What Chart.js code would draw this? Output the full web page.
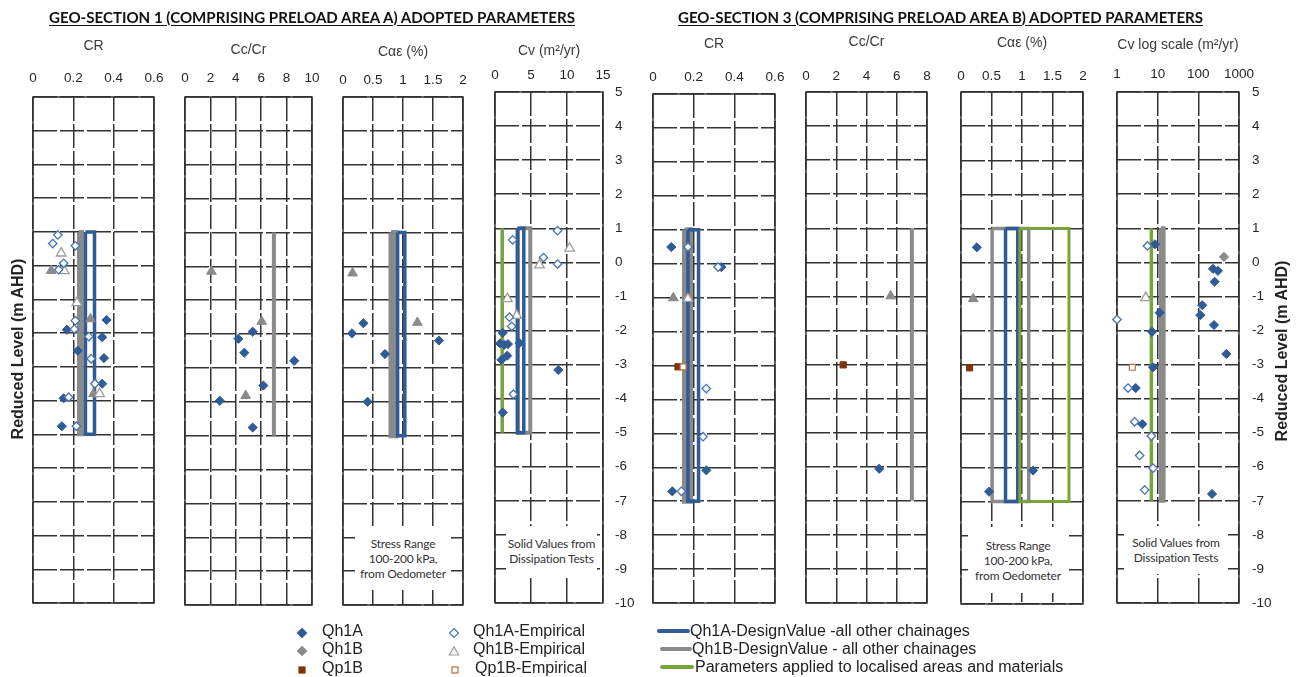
<!DOCTYPE html>
<html>
<head>
<meta charset="utf-8">
<title>Adopted Parameters – Geo-Sections 1 and 3</title>
<script src="https://cdn.jsdelivr.net/npm/chart.js@4.4.0/dist/chart.umd.min.js"></script>
<style>
  html, body { margin: 0; padding: 0; background: #fff; }
  #page { position: relative; width: 1296px; height: 677px; overflow: hidden;
          font-family: "Liberation Sans", Arial, sans-serif; color: #222; }
  #page canvas { position: absolute; left: 0; top: 0; }
  .hdr { position: absolute; top: 7px; height: 20px; line-height: 20px; white-space: nowrap;
         font-family: Lato, "Open Sans", sans-serif; font-weight: bold; font-size: 16px;
         text-decoration: underline; text-underline-offset: 2px; color: #111;
         transform-origin: left center; z-index: 5; }
  .vlabel { position: absolute; width: 260px; height: 20px; line-height: 20px; text-align: center;
            font-weight: bold; font-size: 16px; color: #222; transform: rotate(-90deg); z-index: 5; }
  .note { position: absolute; background: #fff; z-index: 5; display: flex; flex-direction: column;
          justify-content: center; align-items: center; font-family: Lato, "Open Sans", sans-serif;
          font-size: 12px; line-height: 15px; color: #333; letter-spacing: -0.2px; white-space: nowrap; }
  .leg { position: absolute; font-size: 16px; line-height: 18px; height: 18px; white-space: nowrap; color: #222; z-index: 5; }
  .legmark { position: absolute; z-index: 5; }
</style>
</head>
<body>
<div id="page"></div>
<script>
// ---------------- tick labels ----------------
const crTicks      = [0, 0.2, 0.4, 0.6];
const gs1CcCrTicks = [0, 2, 4, 6, 8, 10];
const gs3CcCrTicks = [0, 2, 4, 6, 8];
const caeTicks     = [0, 0.5, 1, 1.5, 2];
const cvTicks      = [0, 5, 10, 15];
const cvLogTicks   = [1, 10, 100, 1000];
const levelTicks   = [5, 4, 3, 2, 1, 0, -1, -2, -3, -4, -5, -6, -7, -8, -9, -10];

// design zones extend over these levels (m AHD): [top, bottom]
const gs1DesignLevels = [1, -5];
const gs3DesignLevels = [1, -7];

// ---------------- GEO-SECTION 1 : CR ----------------
const gs1CrQh1A    = [[0.365,-1.61],[0.168,-1.9],[0.343,-2.12],[0.222,-2.52],[0.352,-2.74],[0.343,-3.5],[0.152,-3.93],[0.143,-4.76]];
const gs1CrQh1B    = [[0.09,-0.15],[0.285,-1.58],[0.3,-3.8]];
const gs1CrQh1AEmp = [[0.098,0.655],[0.123,0.91],[0.21,0.59],[0.152,0.07],[0.127,-0.12],[0.21,-1.63],[0.205,-1.88],[0.277,-2.1],[0.288,-2.76],[0.307,-3.5],[0.177,-3.9],[0.215,-4.76]];
const gs1CrQh1BEmp = [[0.14,0.37],[0.155,-0.15],[0.218,-1.1],[0.33,-3.8]];
const gs1CrDesignQh1A = [0.26, 0.305];
const gs1CrDesignQh1B = [0.228, 0.242];

// ---------------- GEO-SECTION 1 : Cc/Cr ----------------
const gs1CcQh1A = [[5.33,-1.93],[4.2,-2.14],[4.67,-2.55],[8.6,-2.79],[6.17,-3.52],[2.74,-3.97],[5.33,-4.76]];
const gs1CcQh1B = [[2.08,-0.15],[6.04,-1.63],[4.78,-3.82]];
const gs1CcDesignQh1B = [7, 7];

// ---------------- GEO-SECTION 1 : Cae ----------------
const gs1CaeQh1A = [[0.15,-1.98],[0.34,-1.68],[0.7,-2.59],[1.6,-2.19],[0.41,-4.0]];
const gs1CaeQh1B = [[0.16,-0.2],[1.24,-1.66]];
const gs1CaeDesignQh1A = [0.91, 1.03];
const gs1CaeDesignQh1B = [0.8, 0.88];

// ---------------- GEO-SECTION 1 : Cv ----------------
const gs1CvQh1A    = [[1.07,-2.07],[0.7,-2.38],[1.3,-2.42],[1.8,-2.4],[3.4,-2.37],[0.9,-2.86],[1.7,-2.74],[8.8,-3.16],[1.07,-4.41]];
const gs1CvQh1AEmp = [[2.46,0.66],[8.69,0.93],[6.73,0.14],[8.69,-0.05],[2.0,-1.61],[2.32,-1.88],[2.55,-3.87]];
const gs1CvQh1BEmp = [[10.36,0.41],[6.18,-0.08],[1.72,-1.07],[3.02,-1.56]];
const gs1CvDesignQh1A  = [3.1, 4.0];
const gs1CvDesignQh1B  = [3.2, 4.9];
const gs1CvLocalised   = [1.0, 1.0];

// ---------------- GEO-SECTION 3 : CR ----------------
const gs3CrQh1A    = [[0.09,0.49],[0.336,-0.1],[0.262,-6.09],[0.095,-6.71]];
const gs3CrQh1AEmp = [[0.172,0.49],[0.32,-0.1],[0.262,-3.68],[0.246,-5.1],[0.139,-6.71]];
const gs3CrQh1B    = [[0.1,-1.01]];
const gs3CrQh1BEmp = [[0.172,-1.03]];
const gs3CrQp1B    = [[0.123,-3.04]];
const gs3CrQp1BEmp = [[0.148,-3.04]];
const gs3CrDesignQh1A = [0.172, 0.224];
const gs3CrDesignQh1B = [0.155, 0.185];

// ---------------- GEO-SECTION 3 : Cc/Cr ----------------
const gs3CcQh1A = [[4.84,-6.06]];
const gs3CcQh1B = [[5.6,-0.99]];
const gs3CcQp1B = [[2.46,-3.01]];
const gs3CcDesignQh1B = [7, 7];

// ---------------- GEO-SECTION 3 : Cae ----------------
const gs3CaeQh1A = [[0.26,0.45],[1.18,-6.09],[0.46,-6.71]];
const gs3CaeQh1B = [[0.2,-1.06]];
const gs3CaeQp1B = [[0.14,-3.08]];
const gs3CaeDesignQh1A = [0.73, 0.93];
const gs3CaeDesignQh1B = [0.51, 1.11];
const gs3CaeLocalised  = [0.965, 1.77];

// ---------------- GEO-SECTION 3 : Cv (log) ----------------
const gs3CvQh1A    = [[8.6,0.53],[11.2,-1.48],[7.27,-2.04],[7.7,-3.08],[2.88,-3.69],[4.2,-4.75],[229,-0.19],[303,-0.25],[252,-0.57],[125,-1.26],[112,-1.55],[243,-1.84],[488,-2.69],[217,-6.8]];
const gs3CvQh1AEmp = [[5.6,0.48],[1.0,-1.68],[1.87,-3.69],[2.72,-4.68],[7.0,-5.1],[3.6,-5.67],[7.7,-6.04],[4.8,-6.68]];
const gs3CvQh1B    = [[427,0.16]];
const gs3CvQh1BEmp = [[5.07,-1.04]];
const gs3CvQp1BEmp = [[2.38,-3.08]];
const gs3CvDesignQh1B = [12, 14];
const gs3CvLocalised  = [7, 7];

// ---------------- styling ----------------
const FONT  = '"Liberation Sans", Arial, sans-serif';
const W = 1296, H = 677;
const BLUE = '#2f5b97', BLUE_OPEN = '#4873ad', GREY = '#8a8a8a', GREY_OPEN = '#9c9c9c';
const BROWN = '#7a360a', BROWN_OPEN = '#b5713a', GREEN = '#79a33d';
const GRID = '#333333';

const MARK = {
  qh1a:     { ps: 'rectRot',  r: 4.6, bg: BLUE,   bc: BLUE,       bw: 1 },
  qh1aEmp:  { ps: 'rectRot',  r: 4.2, bg: '#fff', bc: BLUE_OPEN,  bw: 1.3 },
  qh1bTri:  { ps: 'triangle', r: 5.6, bg: GREY,   bc: GREY,       bw: 1 },
  qh1bDia:  { ps: 'rectRot',  r: 4.6, bg: GREY,   bc: GREY,       bw: 1 },
  qh1bEmp:  { ps: 'triangle', r: 5.6, bg: '#fff', bc: GREY_OPEN,  bw: 1.3 },
  qp1b:     { ps: 'rect',     r: 4.4, bg: BROWN,  bc: BROWN,      bw: 1 },
  qp1bEmp:  { ps: 'rect',     r: 4.2, bg: '#fff', bc: BROWN_OPEN, bw: 1.2 }
};

function markers(data, m) {
  return {
    data: data.map(([x, y]) => ({ x, y })),
    showLine: false, pointStyle: m.ps, pointRadius: m.r,
    pointBackgroundColor: m.bg, pointBorderColor: m.bc, pointBorderWidth: m.bw,
    order: 0, clip: false
  };
}

// design range drawn as a closed outline between two levels
function zone(range, levels, color, width, order) {
  const [lo, hi] = range, [top, bot] = levels;
  return {
    data: [{ x: lo, y: top }, { x: hi, y: top }, { x: hi, y: bot }, { x: lo, y: bot }, { x: lo, y: top }],
    showLine: true, borderColor: color, borderWidth: width, pointRadius: 0,
    borderJoinStyle: 'miter', tension: 0, fill: false, order, clip: false
  };
}

// ---------------- panels ----------------
const panels = [
  { L: 33, R: 154, T: 97, B: 603, titleY: 46, tickY: 78, title: 'CR',
    x: { min: 0, max: 0.6, ticks: crTicks },
    sets: [ zone(gs1CrDesignQh1B, gs1DesignLevels, GREY, 4, 2), zone(gs1CrDesignQh1A, gs1DesignLevels, BLUE, 3.5, 1),
            markers(gs1CrQh1AEmp, MARK.qh1aEmp), markers(gs1CrQh1BEmp, MARK.qh1bEmp),
            markers(gs1CrQh1B, MARK.qh1bTri), markers(gs1CrQh1A, MARK.qh1a) ] },
  { L: 185, R: 312, T: 97, B: 605, titleY: 50, tickY: 78, title: 'Cc/Cr',
    x: { min: 0, max: 10, ticks: gs1CcCrTicks },
    sets: [ zone(gs1CcDesignQh1B, gs1DesignLevels, GREY, 4, 2),
            markers(gs1CcQh1B, MARK.qh1bTri), markers(gs1CcQh1A, MARK.qh1a) ] },
  { L: 343, R: 463, T: 97, B: 605, titleY: 52, tickY: 80, title: 'Cαε (%)',
    x: { min: 0, max: 2, ticks: caeTicks },
    sets: [ zone(gs1CaeDesignQh1B, gs1DesignLevels, GREY, 5, 2), zone(gs1CaeDesignQh1A, gs1DesignLevels, BLUE, 3.5, 1),
            markers(gs1CaeQh1B, MARK.qh1bTri), markers(gs1CaeQh1A, MARK.qh1a) ] },
  { L: 495, R: 603, T: 92, B: 603, titleY: 51, tickY: 75, title: 'Cv (m²/yr)', rightPad: 12,
    x: { min: 0, max: 15, ticks: cvTicks },
    sets: [ zone(gs1CvDesignQh1B, gs1DesignLevels, GREY, 4, 3), zone(gs1CvDesignQh1A, gs1DesignLevels, BLUE, 3.5, 2),
            zone(gs1CvLocalised, gs1DesignLevels, GREEN, 3.5, 1),
            markers(gs1CvQh1AEmp, MARK.qh1aEmp), markers(gs1CvQh1BEmp, MARK.qh1bEmp), markers(gs1CvQh1A, MARK.qh1a) ] },
  { L: 653, R: 775, T: 94, B: 603, titleY: 44, tickY: 77, title: 'CR',
    x: { min: 0, max: 0.6, ticks: crTicks },
    sets: [ zone(gs3CrDesignQh1B, gs3DesignLevels, GREY, 5, 2), zone(gs3CrDesignQh1A, gs3DesignLevels, BLUE, 3.5, 1),
            markers(gs3CrQh1AEmp, MARK.qh1aEmp), markers(gs3CrQh1BEmp, MARK.qh1bEmp), markers(gs3CrQh1B, MARK.qh1bTri),
            markers(gs3CrQp1BEmp, MARK.qp1bEmp), markers(gs3CrQp1B, MARK.qp1b), markers(gs3CrQh1A, MARK.qh1a) ] },
  { L: 806, R: 927, T: 92, B: 603, titleY: 42, tickY: 76, title: 'Cc/Cr',
    x: { min: 0, max: 8, ticks: gs3CcCrTicks },
    sets: [ zone(gs3CcDesignQh1B, gs3DesignLevels, GREY, 4, 2),
            markers(gs3CcQh1B, MARK.qh1bTri), markers(gs3CcQp1B, MARK.qp1b), markers(gs3CcQh1A, MARK.qh1a) ] },
  { L: 961, R: 1083, T: 92, B: 604, titleY: 43, tickY: 76, title: 'Cαε (%)',
    x: { min: 0, max: 2, ticks: caeTicks },
    sets: [ zone(gs3CaeDesignQh1B, gs3DesignLevels, GREY, 3.5, 3), zone(gs3CaeDesignQh1A, gs3DesignLevels, BLUE, 3.5, 2),
            zone(gs3CaeLocalised, gs3DesignLevels, GREEN, 3, 1),
            markers(gs3CaeQh1B, MARK.qh1bTri), markers(gs3CaeQp1B, MARK.qp1b), markers(gs3CaeQh1A, MARK.qh1a) ] },
  { L: 1117, R: 1239, T: 92, B: 603, titleY: 45, tickY: 74, title: 'Cv log scale (m²/yr)', rightPad: 13, log: true,
    x: { min: 1, max: 1000, ticks: cvLogTicks },
    sets: [ zone(gs3CvDesignQh1B, gs3DesignLevels, GREY, 4, 2), zone(gs3CvLocalised, gs3DesignLevels, GREEN, 3.5, 1),
            markers(gs3CvQh1AEmp, MARK.qh1aEmp), markers(gs3CvQh1BEmp, MARK.qh1bEmp), markers(gs3CvQp1BEmp, MARK.qp1bEmp),
            markers(gs3CvQh1B, MARK.qh1bDia), markers(gs3CvQh1A, MARK.qh1a) ] }
];

// solid outline round each plot area
const panelFrame = {
  id: 'panelFrame',
  beforeDatasetsDraw(chart) {
    const { ctx, chartArea: a } = chart;
    ctx.save();
    ctx.strokeStyle = GRID;
    ctx.lineWidth = 1.5;
    ctx.strokeRect(a.left, a.top, a.right - a.left, a.bottom - a.top);
    ctx.restore();
  }
};

const page = document.getElementById('page');
const TICK_SIZE = 13.5, TITLE_SIZE = 14;

panels.forEach(p => {
  const cv = document.createElement('canvas');
  cv.width = W; cv.height = H;
  page.appendChild(cv);
  const titleLH = TITLE_SIZE * 1.2, tickLH = TICK_SIZE * 1.2;
  const axisTop = p.titleY - titleLH / 2;
  const rightW = p.rightPad ? 40 : 0;
  new Chart(cv, {
    type: 'scatter',
    data: { datasets: p.sets },
    options: {
      responsive: false, animation: false, devicePixelRatio: 1,
      layout: { padding: { left: p.L, right: W - p.R - rightW, top: axisTop, bottom: H - p.B } },
      plugins: { legend: { display: false }, tooltip: { enabled: false } },
      scales: {
        x: {
          type: p.log ? 'logarithmic' : 'linear', position: 'top', min: p.x.min, max: p.x.max,
          afterFit: s => { s.height = p.T - axisTop; },
          afterBuildTicks: s => { s.ticks = p.x.ticks.map(v => ({ value: v })); },
          ticks: { autoSkip: false, maxRotation: 0, padding: p.T - p.tickY - tickLH / 2,
                   font: { family: FONT, size: TICK_SIZE }, color: '#262626', callback: v => String(v) },
          grid: { color: GRID, lineWidth: 1.5, drawTicks: false },
          border: { display: false, dash: [24, 3] },
          title: { display: true, text: p.title, padding: 0, color: '#3a3a3a',
                   font: { family: FONT, size: TITLE_SIZE } }
        },
        y: {
          type: 'linear', position: p.rightPad ? 'right' : 'left', min: -10, max: 5,
          afterFit: s => { s.width = rightW; },
          afterBuildTicks: s => { s.ticks = [...levelTicks].sort((a, b) => a - b).map(v => ({ value: v })); },
          ticks: { display: !!p.rightPad, autoSkip: false, padding: p.rightPad || 0,
                   font: { family: FONT, size: TICK_SIZE }, color: '#262626', callback: v => String(v) },
          grid: { color: GRID, lineWidth: 1.5, drawTicks: false },
          border: { display: false, dash: [24, 3] }
        }
      }
    },
    plugins: [panelFrame]
  });
});

// ---------------- headings and labels ----------------
function el(cls, html, css) {
  const d = document.createElement('div');
  d.className = cls;
  d.innerHTML = html;
  Object.assign(d.style, css);
  page.appendChild(d);
  return d;
}
function fitWidth(d, w) {
  const natural = d.getBoundingClientRect().width;
  d.style.transform = 'scaleX(' + (w / natural) + ')';
}
fitWidth(el('hdr', 'GEO-SECTION 1 (COMPRISING PRELOAD AREA A) ADOPTED PARAMETERS', { left: '49px' }), 526);
fitWidth(el('hdr', 'GEO-SECTION 3 (COMPRISING PRELOAD AREA B) ADOPTED PARAMETERS', { left: '678px' }), 525);

el('vlabel', 'Reduced Level (m AHD)', { left: (18 - 130) + 'px', top: (349 - 10) + 'px' });
el('vlabel', 'Reduced Level (m AHD)', { left: (1282 - 130) + 'px', top: (351 - 10) + 'px' });

el('note', '<span>Stress Range</span><span>100-200 kPa,</span><span>from Oedometer</span>',
   { left: '355px', top: '527px', width: '96px', height: '63px' });
el('note', '<span>Solid Values from</span><span>Dissipation Tests</span>',
   { left: '506px', top: '526px', width: '91px', height: '50px' });
el('note', '<span>Stress Range</span><span>100-200 kPa,</span><span>from Oedometer</span>',
   { left: '968px', top: '527px', width: '100px', height: '66px' });
el('note', '<span>Solid Values from</span><span>Dissipation Tests</span>',
   { left: '1124px', top: '526px', width: '104px', height: '48px' });

// ---------------- legend ----------------
function svgMark(shape, fill, stroke) {
  let body = '';
  if (shape === 'diamond') body = '<polygon points="6,1.5 10.5,6 6,10.5 1.5,6" fill="' + fill + '" stroke="' + stroke + '" stroke-width="1.2"/>';
  if (shape === 'triangle') body = '<polygon points="6,1.8 10.6,10 1.4,10" fill="' + fill + '" stroke="' + stroke + '" stroke-width="1.2"/>';
  if (shape === 'square') body = '<rect x="3" y="3" width="6" height="6" fill="' + fill + '" stroke="' + stroke + '" stroke-width="1.2"/>';
  return '<svg width="12" height="12" viewBox="0 0 12 12">' + body + '</svg>';
}
const legendMarks = [
  { shape: 'diamond', fill: BLUE, stroke: BLUE, x: 302, y: 631, text: 'Qh1A', tx: 322 },
  { shape: 'diamond', fill: GREY, stroke: GREY, x: 302, y: 649, text: 'Qh1B', tx: 322 },
  { shape: 'square', fill: BROWN, stroke: BROWN, x: 302, y: 668, text: 'Qp1B', tx: 322 },
  { shape: 'diamond', fill: '#fff', stroke: BLUE_OPEN, x: 454, y: 631, text: 'Qh1A-Empirical', tx: 473 },
  { shape: 'triangle', fill: '#fff', stroke: GREY_OPEN, x: 454, y: 649, text: 'Qh1B-Empirical', tx: 473 },
  { shape: 'square', fill: '#fff', stroke: BROWN_OPEN, x: 455, y: 668, text: 'Qp1B-Empirical', tx: 475 }
];
legendMarks.forEach(m => {
  el('legmark', svgMark(m.shape, m.fill, m.stroke), { left: (m.x - 6) + 'px', top: (m.y - 6) + 'px', width: '12px', height: '12px' });
  el('leg', m.text, { left: m.tx + 'px', top: (m.y - 9) + 'px' });
});
const legendLines = [
  { color: BLUE, x0: 657, x1: 690, y: 631, text: 'Qh1A-DesignValue -all other chainages', tx: 690 },
  { color: GREY, x0: 660, x1: 692, y: 649, text: 'Qh1B-DesignValue - all other chainages', tx: 692 },
  { color: GREEN, x0: 660, x1: 694, y: 667, text: 'Parameters applied to localised areas and materials', tx: 695 }
];
legendLines.forEach(l => {
  el('legmark', '', { left: l.x0 + 'px', top: (l.y - 2) + 'px', width: (l.x1 - l.x0) + 'px', height: '4px',
                      background: l.color, borderRadius: '2px' });
  el('leg', l.text, { left: l.tx + 'px', top: (l.y - 9) + 'px' });
});
</script>
</body>
</html>
